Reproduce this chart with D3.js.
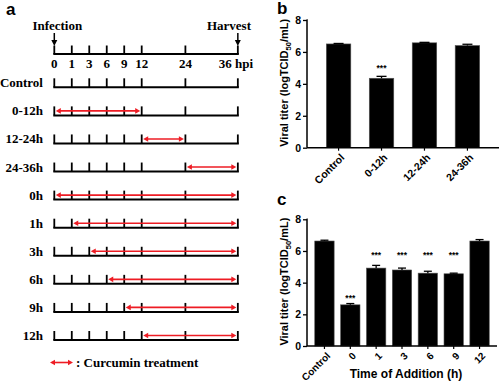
<!DOCTYPE html>
<html><head><meta charset="utf-8">
<script src="https://cdn.jsdelivr.net/npm/d3@7"></script>
<style>html,body{margin:0;padding:0;background:#fff;} svg{display:block;}</style>
</head><body>
<script>
// ---------- Panel a data ----------
const timeTicks = [0, 1, 3, 6, 9, 12, 24, 36];
const timeTickLabels = ["0", "1", "3", "6", "9", "12", "24", "36 hpi"];
const rowLabels = ["Control", "0-12h", "12-24h", "24-36h", "0h", "1h", "3h", "6h", "9h", "12h"];
const treatStart = [null, 0, 12, 24, 0, 1, 3, 6, 9, 12];
const treatEnd   = [null, 12, 24, 36, 36, 36, 36, 36, 36, 36];

// ---------- Panel b data ----------
const bCategories = ["Control", "0-12h", "12-24h", "24-36h"];
const bValues = [6.5, 4.35, 6.57, 6.4];
const bErrors = [0.03, 0.12, 0.03, 0.08];
const bStars  = [null, 5.1, null, null];

// ---------- Panel c data ----------
const cCategories = ["Control", "0", "1", "3", "6", "9", "12"];
const cValues = [6.63, 2.6, 4.92, 4.8, 4.6, 4.56, 6.63];
const cErrors = [0.05, 0.08, 0.17, 0.12, 0.12, 0.04, 0.09];
const cStars  = [null, 3.15, 5.85, 5.85, 5.85, 5.85, null];

const yTicks = [0, 2, 4, 6, 8];

const W = 500, H = 382;
const svg = d3.select("body").append("svg").attr("width", W).attr("height", H);

const SERIF = "'Liberation Serif', 'Times New Roman', serif";
const SANS = "'Liberation Sans', Arial, sans-serif";
const RED = "#ee1c24";

// ================= Panel a =================
const gA = svg.append("g");
gA.append("text").attr("x", 6).attr("y", 15).text("a")
  .attr("font-family", SANS).attr("font-weight", "bold").attr("font-size", 17);

// non-uniform layout of the time axis: equal slots up to 12 h, wider after
const slots = [0, 1, 2, 3, 4, 5, 7.5, 10.5];
const x0a = 54.3, slotW = 17.48;
const tx = d3.scaleLinear().domain(timeTicks).range(slots.map(s => x0a + s * slotW));
const rowY = d3.scalePoint().domain(rowLabels).range([87.3, 340]);
const axisYa = 54;

function drawTimeline(g, y, tickH) {
  g.append("line").attr("x1", tx(0) - 1).attr("x2", tx(36) + 1).attr("y1", y).attr("y2", y)
    .attr("stroke", "#000").attr("stroke-width", 2);
  g.selectAll(null).data(timeTicks).join("line")
    .attr("x1", d => tx(d)).attr("x2", d => tx(d))
    .attr("y1", y).attr("y2", y - tickH)
    .attr("stroke", "#000").attr("stroke-width", 1.8);
}

// top axis
drawTimeline(gA, axisYa, 8.5);
gA.selectAll(null).data(timeTicks).join("text")
  .attr("x", (d, i) => i === timeTicks.length - 1 ? tx(d) - 5 : tx(d))
  .attr("y", axisYa + 13.5)
  .attr("text-anchor", (d, i) => i === timeTicks.length - 1 ? "start" : "middle")
  .attr("font-family", SERIF).attr("font-weight", "bold").attr("font-size", 13)
  .text((d, i) => timeTickLabels[i])
  .attr("dx", (d, i) => i === timeTicks.length - 1 ? -14 : 0);

// infection / harvest
function downArrow(x) {
  gA.append("line").attr("x1", x).attr("x2", x).attr("y1", 33).attr("y2", 42)
    .attr("stroke", "#000").attr("stroke-width", 1.5);
  gA.append("path").attr("d", `M${x - 3},40 L${x + 3},40 L${x},46 Z`).attr("fill", "#000");
}
downArrow(tx(0));
downArrow(tx(36));
gA.append("text").attr("x", tx(0) + 3).attr("y", 30).attr("text-anchor", "middle")
  .attr("font-family", SERIF).attr("font-weight", "bold").attr("font-size", 13).text("Infection");
gA.append("text").attr("x", 251).attr("y", 30).attr("text-anchor", "end")
  .attr("font-family", SERIF).attr("font-weight", "bold").attr("font-size", 13).text("Harvest");

function redArrow(g, xa, xb, y) {
  g.append("line").attr("x1", xa + 3).attr("x2", xb - 3).attr("y1", y).attr("y2", y)
    .attr("stroke", RED).attr("stroke-width", 1.6);
  g.append("path").attr("d", `M${xa},${y} L${xa + 5},${y - 2.8} L${xa + 5},${y + 2.8} Z`).attr("fill", RED);
  g.append("path").attr("d", `M${xb},${y} L${xb - 5},${y - 2.8} L${xb - 5},${y + 2.8} Z`).attr("fill", RED);
}

rowLabels.forEach((lab, i) => {
  const y = rowY(lab);
  gA.append("text").attr("x", 43).attr("y", y).attr("text-anchor", "end")
    .attr("font-family", SERIF).attr("font-weight", "bold").attr("font-size", 13).text(lab);
  drawTimeline(gA, y, 9);
  if (treatStart[i] !== null) {
    redArrow(gA, tx(treatStart[i]) + 1.5, tx(treatEnd[i]) - 1.5, y - 4.5);
  }
});

// legend
redArrow(gA, 50, 73, 362.5);
gA.append("text").attr("x", 76).attr("y", 367)
  .attr("font-family", SERIF).attr("font-weight", "bold").attr("font-size", 13)
  .text(": Curcumin treatment");

// ================= Bar panels =================
function barPanel(opts) {
  const g = svg.append("g");
  const x = d3.scaleBand().domain(opts.cats).range(opts.xr)
    .paddingInner(opts.pi).paddingOuter(opts.po);
  const y = d3.scaleLinear().domain([0, 8]).range(opts.yr);
  const bw = x.bandwidth();

  // bars
  g.selectAll(null).data(opts.cats).join("rect")
    .attr("x", d => x(d)).attr("width", bw)
    .attr("y", (d, i) => y(opts.vals[i]))
    .attr("height", (d, i) => y(0) - y(opts.vals[i]))
    .attr("fill", "#000").attr("stroke", "#555").attr("stroke-width", 0.6);

  // error bars (upper)
  g.selectAll(null).data(opts.cats).join("line")
    .attr("x1", d => x(d) + bw / 2).attr("x2", d => x(d) + bw / 2)
    .attr("y1", (d, i) => y(opts.vals[i])).attr("y2", (d, i) => y(opts.vals[i] + opts.errs[i]))
    .attr("stroke", "#000").attr("stroke-width", 1.3);
  g.selectAll(null).data(opts.cats).join("line")
    .attr("x1", d => x(d) + bw / 2 - opts.cap / 2).attr("x2", d => x(d) + bw / 2 + opts.cap / 2)
    .attr("y1", (d, i) => y(opts.vals[i] + opts.errs[i])).attr("y2", (d, i) => y(opts.vals[i] + opts.errs[i]))
    .attr("stroke", "#000").attr("stroke-width", 1.3);

  // stars
  g.selectAll(null).data(opts.cats.filter((d, i) => opts.stars[i] !== null)).join("text")
    .attr("x", d => x(d) + bw / 2)
    .attr("y", d => y(opts.stars[opts.cats.indexOf(d)]))
    .attr("text-anchor", "middle").attr("dy", "0.6em")
    .attr("font-family", SANS).attr("font-weight", "bold").attr("font-size", 8.5)
    .text("***");

  // y axis
  const yAxis = d3.axisLeft(y).tickValues(yTicks).tickSize(4).tickPadding(2).tickFormat(d3.format("d"));
  const ga = g.append("g").attr("transform", `translate(${opts.xr[0]},0)`).call(yAxis);
  ga.select(".domain").attr("stroke-width", 1.5).attr("d", `M-0.5,${opts.yr[1]}H0V${opts.yr[0]}`);
  ga.selectAll(".tick line").attr("stroke-width", 1.3);
  ga.selectAll(".tick text").attr("font-family", SANS).attr("font-weight", "bold").attr("font-size", 10.5).attr("fill", "#000");

  // x axis
  const xAxis = d3.axisBottom(x).tickSize(3).tickFormat("");
  const gx = g.append("g").attr("transform", `translate(0,${opts.yr[0]})`).call(xAxis);
  gx.select(".domain").attr("stroke-width", 1.5).attr("d", `M${opts.xr[0]},0H${opts.xr[1]}`);
  gx.selectAll(".tick line").attr("stroke-width", 1.2);

  // rotated category labels
  g.selectAll(null).data(opts.cats).join("text")
    .attr("transform", d => `translate(${x(d) + bw / 2 + 4},${opts.yr[0] + 8}) rotate(-45)`)
    .attr("text-anchor", "end").attr("dy", "0.35em")
    .attr("font-family", SANS).attr("font-weight", "bold").attr("font-size", opts.catFont)
    .text(d => d);

  // y label
  const yl = g.append("text")
    .attr("transform", `translate(${opts.ylx},${(opts.yr[0] + opts.yr[1]) / 2 - 1}) rotate(-90)`)
    .attr("text-anchor", "middle")
    .attr("font-family", SANS).attr("font-weight", "bold").attr("font-size", 11);
  yl.append("tspan").text("Viral titer (logTCID");
  yl.append("tspan").attr("font-size", 7.5).attr("dy", 2.5).text("50");
  yl.append("tspan").attr("dy", -2.5).text("/mL)");

  // panel letter
  g.append("text").attr("x", opts.letterX).attr("y", opts.letterY).text(opts.letter)
    .attr("font-family", SANS).attr("font-weight", "bold").attr("font-size", 17);
  return { g, x, y };
}

barPanel({
  cats: bCategories, vals: bValues, errs: bErrors, stars: bStars,
  xr: [307, 499], yr: [147.7, 20], pi: 0.43, po: 0.45, cap: 10,
  catFont: 10.5, ylx: 288, letter: "b", letterX: 277, letterY: 14
});

const pc = barPanel({
  cats: cCategories, vals: cValues, errs: cErrors, stars: cStars,
  xr: [307, 497], yr: [346, 219.3], pi: 0.25, po: 0.3, cap: 8,
  catFont: 10, ylx: 288, letter: "c", letterX: 277, letterY: 205
});
pc.g.append("text").attr("x", 406).attr("y", 378).attr("text-anchor", "middle")
  .attr("font-family", SANS).attr("font-weight", "bold").attr("font-size", 12)
  .text("Time of Addition (h)");
</script>
</body></html>
